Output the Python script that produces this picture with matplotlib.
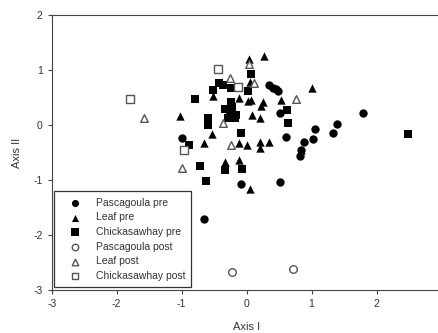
import matplotlib.pyplot as plt

plt.rcParams['font.family'] = ['Liberation Sans', 'DejaVu Sans']
plt.rcParams['axes.unicode_minus'] = False

# ordination scores (Axis I, Axis II) per river and period
pasc_pre_x = [-0.99, -0.65, -0.09, 0.52, 0.35, 0.41, 0.45, 0.49, 0.51, 0.60,
              1.06, 1.02, 0.89, 0.84, 0.82, 1.33, 1.39, 1.79]
pasc_pre_y = [-0.23, -1.71, -1.08, -1.03, 0.73, 0.68, 0.65, 0.62, 0.21, -0.22,
              -0.07, -0.26, -0.30, -0.45, -0.57, -0.15, 0.02, 0.22]

leaf_pre_x = [-1.03, -0.52, -0.53, -0.66, -0.34, -0.12, -0.12, 0.00, -0.11,
              0.03, 0.27, 0.05, 0.07, 0.02, 0.09, 0.20, 0.22, 0.25, 0.53,
              1.01, 0.21, 0.35, 0.21, 0.06, 0.84]
leaf_pre_y = [0.17, 0.52, -0.16, -0.32, -0.68, -0.64, -0.33, -0.37, 0.50,
              1.20, 1.25, 0.79, 0.45, 0.44, 0.19, 0.12, 0.35, 0.41, 0.45,
              0.67, -0.31, -0.30, -0.41, -1.17, -0.45]

chick_pre_x = [-0.80, -0.52, -0.42, -0.36, -0.24, 0.07, 0.02, -0.24, -0.33,
               -0.25, -0.17, -0.29, -0.18, -0.22, -0.60, -0.60, -0.89, -0.71,
               -0.63, -0.34, -0.07, -0.09, 0.62, 0.64, 2.49]
chick_pre_y = [0.47, 0.64, 0.76, 0.72, 0.68, 0.93, 0.61, 0.41, 0.29,
               0.22, 0.18, 0.13, 0.12, 0.32, 0.12, 0.00, -0.36, -0.74,
               -1.01, -0.81, -0.80, -0.14, 0.27, 0.03, -0.16]

pasc_post_x = [-0.23, 0.71]
pasc_post_y = [-2.68, -2.61]

leaf_post_x = [-1.58, -0.99, -0.36, -0.24, -0.26, 0.03, 0.12, 0.76]
leaf_post_y = [0.13, -0.79, 0.03, -0.36, 0.86, 1.11, 0.76, 0.48]

chick_post_x = [-1.79, -0.44, -0.13, -0.96]
chick_post_y = [0.48, 1.01, 0.69, -0.45]

fig = plt.figure(figsize=(4.38, 3.33), dpi=100)
ax = fig.add_axes([0.118, 0.129, 0.890, 0.826])

filled = dict(color='black', s=36, linewidths=0)
hollow = dict(facecolors='white', edgecolors='#555555', s=30, linewidths=1.0)

ax.scatter(pasc_pre_x, pasc_pre_y, marker='o', label='Pascagoula pre', **filled)
ax.scatter(leaf_pre_x, leaf_pre_y, marker='^', label='Leaf pre', **filled)
ax.scatter(chick_pre_x, chick_pre_y, marker='s', label='Chickasawhay pre', **filled)
ax.scatter(pasc_post_x, pasc_post_y, marker='o', label='Pascagoula post', **hollow)
ax.scatter(leaf_post_x, leaf_post_y, marker='^', label='Leaf post', **hollow)
ax.scatter(chick_post_x, chick_post_y, marker='s', label='Chickasawhay post', **hollow)

ax.set_xlim(-3, 3)
ax.set_ylim(-3, 2)
ax.set_xticks([-3, -2, -1, 0, 1, 2, 3])
ax.set_yticks([-3, -2, -1, 0, 1, 2])
ax.spines['right'].set_visible(False)
for sp in ax.spines.values():
    sp.set_color('#444444')
ax.tick_params(direction='out', length=3, width=0.8, labelsize=7.5,
               colors='#444444', labelcolor='#333333')
ax.set_xlabel('Axis I', fontsize=8, color='#333333', labelpad=9)
ax.set_ylabel('Axis II', fontsize=8, color='#333333', labelpad=8)

leg = ax.legend(loc='lower left', bbox_to_anchor=(0.006, 0.01), borderaxespad=0,
                fontsize=7.5, fancybox=False, edgecolor='#333333',
                handletextpad=0.6, labelspacing=0.45, borderpad=0.6,
                handlelength=2.8, markerscale=0.85, framealpha=1)
leg.get_frame().set_linewidth(0.9)
for t in leg.get_texts():
    t.set_color('#333333')

fig.savefig('out.png', dpi=100)
